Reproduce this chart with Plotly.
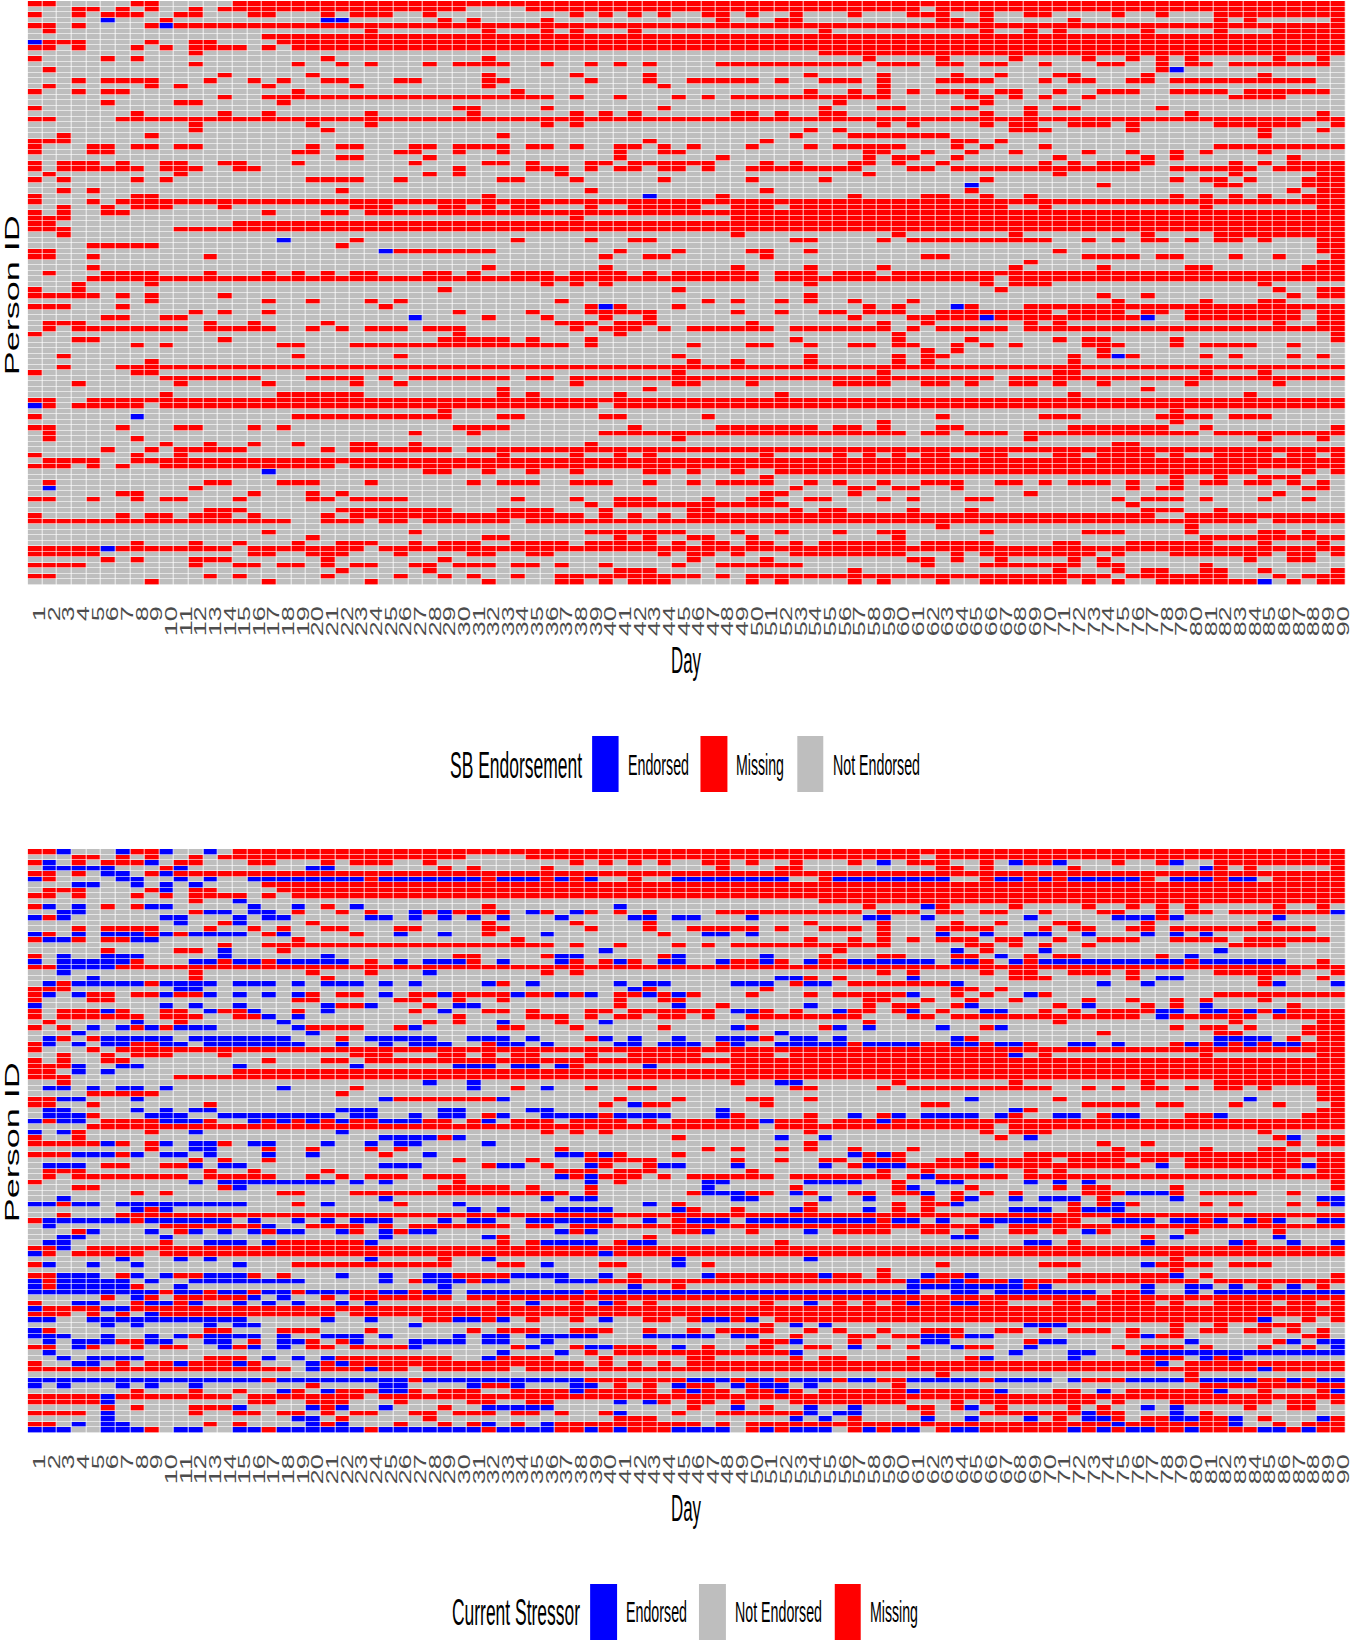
import plotly.graph_objects as go

days = list(range(1, 91))
people = list(range(1, 107))
day_labels = [str(d) for d in days]

# Cells with missing data, one string per person (day ranges)
missing_rows = [
"1-2,8-9,15-90",
"4-5,7,9,12,14-30,35-61,63-90",
"1,4,6-8,11-12,16-17,21,23-25,28,38,40,42,44,47-48,50,53,57,61-63,66,69-70,75,78,82-90",
"10,29,31,36,48,52-53,63-64,66,72,82,84,90",
"1-2,4,9,11-90",
"2,24,32,36,38,42,55,66,69,71,77,82,86-90",
"17-90",
"2-4,9,12-13,18-90",
"1-2,4,8,10,12-15,17,19-90",
"12,55-90",
"1,6,8,21,32,58,63,68,73,76,78,80,86,89",
"12,19,22,24,28,30-33,36,39,41,43,48-57,59-61,63-64,66-67,70,74-75,78,80-81,83-89",
"2,78",
"14,20,32,38,43,54,59,64,67,71-72,77,85",
"4,6-9,13,16,18,21-22,26-27,32-33,39,43,46-50,52,55-57,59,63-66,70,72-73,76-77,79-88",
"2,9,11,17,23,32,44,59",
"1,4,6-7,19,34,54,57,59,61,63-65,67-68,71,74-76,79-82,84-89",
"14,17-36,38,41,45,47,49-59,65-66,68,70,73,83-86",
"6,11-12,18,56,66",
"1,30-31,36,44,55,59-60,64-65,69,71-72,78",
"8,14,17,24,31,38,40,42,49-50,52,55-56,66,69,80,89",
"1-2,7-90",
"12,20,24,36,38,59,61,66,68-69,72-74,76,82-87,90",
"12,21,54,56,68-70,76,85,89",
"3,9,33,53,57-63,85",
"1-3,43,51,64-65,67",
"1,5-6,8-9,11-12,20,22-23,27-28,30-33,35-36,38,41-42,44,46,50,54,56-60,64,66,70,82-90",
"1,5-6,19-20,26-27,30,33,41,44-45,58-59,62,65,68,73,76,79,81,85",
"22-23,28,41,48,58,60-61,64,71,77,79,87",
"1,3-5,7,10-11,14-15,19,27,32-33,35,39-40,42-47,51,53,57-58,60,63,70,72,74-77,83,85,87-90",
"1,3-8,10-12,15-16,30,35-37,39,41-42,44-45,47,50-57,61-62,64-76,79-84,86-90",
"2,11,28,30,37,58,71,83,89-90",
"1,3,8,10,20-23,26,33-34,38,44,50,55,66,79,81-82,84,88-90",
"74,82-83,88-90",
"3,5,22,39,51,65,87,89-90",
"1,8-9,32,48,57,62-63,66,69,79,81,83,85,88-90",
"1,5,7-90",
"3,6,8-10,14,23-25,29-30,32,34-35,39,42-46,49-51,53-67,70,81,89-90",
"1,3,6-7,17,21-22,24-90",
"1-3,38,49-90",
"1-2,15-90",
"1-3,11-90",
"3,49,60,68,77,82-90",
"23,34,39,42-43,53-54,59,61-70,73,75,77-78,80,82-83,85,89-90",
"5-9,22,89-90",
"1-2,26-32,41,45,50-51,54,71,89-90",
"1-2,5,13,40,43-44,51,62-63,73-76,78-79,83,86,90",
"69,89-90",
"5,32,40,49,54,59,68,74,80-81,88-90",
"2,6-9,13,17,19,21,23-24,28-29,31,34-36,38-41,43,45-50,52-54,56-58,60-90",
"5-50,52-66,68-90",
"4,9,36,38,40,54,66,68-70,85",
"1,4,29,45,67,86,89-90",
"1-5,7,9,14,54,74,77,87,89-90",
"9,17,20,24,26,37,47,49,52,54,57,61,75,81,85-86",
"1-3,7,25,39,41,45,58,60,65,69-90",
"12,14,17,30,35,39-43,49,52,55-56,58-60,63-70,72-75,77-78,80-87,89-90",
"6-7,10-11,32,36,40,43,57,61-65,67-76,80-87,89-90",
"2-4,13,16,21,37-39,41-43,50,59,62,69,71,86,89-90",
"2,4-11,13-17,20,22,24-26,28-30,38,40-42,44,46-51,53-59,61,63-67,69-90",
"1,30,41,60,90",
"4-5,14,29-33,35,39,53,60,65,71,73-74,79,90",
"8,10,18-19,23-37,39,46,50-51,54,57-58,60-61,64,66,68,73-75,79,81-84,87",
"62,64,74",
"3,19,26,45,54,60,62-63,72,74,76,81,83,87,89",
"9,46,49,54,60,62,72",
"3,7-90",
"1,8-9,45,59,71-72,81,85",
"10-16,20-23,25,27-33,35-36,38-66,68-90",
"4,11,17,23,26,38,45-46,50,56-59,62-63,65,68-69,71,74,80,86",
"33,43,77",
"10,18-23,33,35,41,52,72,84",
"1-2,5-90",
"2,4-8,10-39,41-90",
"29,79",
"1,19-29,33-34,40-41,47,63,70-72,78-81,83-85",
"59,79",
"1-2,7,11-12,16,18,30-33,42,48-54,56-57,59,63-64,72-78,81,90",
"2,27,31,40-60,62-63,65-67,69-80,82-90",
"2,8,45,69,85,89",
"10,13,16,19,23-24,27,39,75-76",
"6,9,11-15,21,23-29,31-90",
"1,8,11,33,38,41,43,51,56,58,60,62-63,66-67,71-72,74-77,79,82-85,87-88,90",
"2-5,8-90",
"1-3,5,7,10-21,23-90",
"28-29,32,35,38,43-44,46,49,52-84,88,90",
"51,79,82,85-87",
"2,13-14,18-20,24,31,33-35,38-40,43,46,48-51,54,56,59,62-64,67-68,70,72-74,76,79,81-82,84-85,87,89",
"12,53,57-58,60-61,64,76,78-79,88-89",
"7-8,16,20,22,51-52,57,69,86",
"1-2,5,8,10-11,15,20-21,23-26,34,38,41-43,47,50-51,54-55,59,61,65-66,75,77-79,81,85,88",
"39,41-52,76",
"13-15,22-29,33-36,40,46-47,53,55-56,61,65,77-79,82",
"1,7,9-10,12-14,16,21,23-38,40,42,44,46-77,80-90",
"1-18,21-23,25-26,28-33,35-84,86-90",
"63,80",
"17,27,39-45,49,52,56,59-60,66,73-75,80,85-86,88",
"20,32-33,41,43,46-47,50,60,81-90",
"8,12,15,19,22-24,27,29-31,34-37,39-43,45,47-48,50-51,53,55-60,62-66,71-72,76-81,85,89",
"1-5,7-14,16-23,25-90",
"1-5,16-17,20-22,26,31-32,35-36,44,46-47,49,53-60,64,66-73,75,79-85,87-88,90",
"6,8,12-14,21,29,46,51,61-62,64,67,72,74,84,87-88",
"1-4,12,15-16,18-19,21,23-24,27-28,30-32,34-35,37,40,45,48-53,62,66-72,74-75,81",
"22,28,41-43,57,71,75,77-78,81-82,85,90",
"1-2,13,15,21,26,29,31,34,37-46,48,50-74,76-82,86,88-90",
"9,17,24,32,37-38,40,42-44,50,52,57,59,63,66-71,73,75,78-84,87,89-90",
]

# SB endorsed cells
sb_endorsed_person = [4, 4, 4, 5, 8, 13, 34, 36, 44, 46, 56, 56, 58, 58, 58, 65, 74, 76, 86, 89, 100, 106]
sb_endorsed_day = [6, 21, 22, 10, 1, 79, 65, 43, 18, 25, 40, 64, 27, 66, 77, 75, 1, 8, 17, 2, 6, 85]

# Current-stressor endorsed cells, one string per person (day ranges)
stressor_rows = [
"3,7,10,13", "", "2,9,59,68,71,79", "2-6,11,20-21,81", "6-7,10",
"1,7-8,11,13,16-23,25-31,33-35,37,39,45-52,56-63,67-68,70,72-76,79-81,83-84",
"4-5,8,10,12", "10", "", "15", "2,4,9-10,16,19,23,41,62",
"3-4,13-14,16-17,27,29,35,38,90",
"1,3,10-11,15,17-18,24-25,27,29,31,33,37,42-43,45-46,50,58-59,62,69,75-77,79,86",
"11,15", "",
"1,4,6-8,10,12-15,18,26,29,36,47-48,50,63,66,69-70,73,77,79,81",
"2-3,8-9", "", "14,40,64,70,82", "3,6-8,14,21,37-38,45,51,67,80",
"1,3-7,12-13,15-16,18-22,26,28-30,33,37,41,44-45,48,51,54,57-62,64-65,68,70-79,81-86",
"3-6", "3,28", "5,52-53,61,78-79",
"2,4-8,10-13,15-17,19,21-23,25,27,32,35,41,43-44,49-51,54-55,64,74,77,86,90",
"11-12,42", "2,4,10,13,15,17,19,25,29,34,37,39,43,45,61,69", "",
"1,10,12,15,21,24,30-31,45,54,65,73,81",
"6,13,16,21,29,49-50,56,61,66-67,78-79,81-82,84,86",
"17,19,78", "8,18,33,40", "5,7,9,11-13,19,27,49,56,58,63,67", "4,20,52",
"2,6-10,12-18,24-28,31-33,35,40,42,45,48-50,53-54,56,64,82-85",
"2,4,6-7,10-11,13-19,22,25,27-29,33-34,36,41-42,44-46,49,52-56,58-61,64-65,67-68,72-73,75,80,82,84,86-87",
"", "68", "", "4,7-8,15,23,30-32,34-35,37,43", "4,6", "", "28,31,52-53",
"2-3,5,7-8,10,18,31,36", "", "3-4,8,25,33,65,84", "42",
"2-3,8,10,12-13,22-24,29-30,35-36,48,68",
"2-4,9-11,14-21,23-24,27,29-30,33,36-39,41-44,48,57,60,62-65,67,71-72,75-76,82",
"1,3-4,10-12,16,18,20,22,25-27,32,51,59", "", "1,3,12,22",
"25-28,30,52,55,69,87", "6,10,12-13,16-17,21,24,26-27,32", "12-13",
"4-6,8,10-11,13,17,20,28,37-38,40,57,59", "",
"2-4,12,14-15,25-27,33-34,39,44-45,49,55,58-60,66,78,88", "", "37,39,62",
"12,14-21,23,25,39,47-48,54-57,63-64,69,71,73", "15,47,61",
"47-49,53,62,76-78",
"3,25,36,38-39,49-50,55,58,65,68,70-72,79,89-90",
"1-2,4-5,7-15,21,30,43,64,75,90",
"8,10,31,33,37-40,45,53,58,68-70,73-75", "",
"2-7,9-14,16,19,21,23-25,29,31-32,35-40,43,46-48,50-58,60-61,63,66-70,75-77,79-80,82,84,86,89-90",
"2,17", "5,9,12,14,16,18-19,22,25,27-28,37,39,47,54,73",
"3-4,10,25,32,64-65,79,86", "2-3,13-15,17,24,36-39,42-43,69-70,77,83,87,90",
"3", "1,40", "7,11,13,24,32,45,54", "2,5,8,15,36,45,77", "",
"3-5,8,10,13-15,22,25,28-29,34-37,40,47,55,62,65,79",
"1,3-7,9,12-19,25,28-30,32-33,37-39,61,64,68",
"1,3-7,11,29,42,61-68,70,77,80-81,83,87",
"1-9,11-12,14-15,17-18,20-22,25-26,28-29,31-38,40-61,64-65,67-73,77,80,82-90",
"8,16,18", "4-5,9-10,12,15,17,19,22,24,35,40,54,61,64-65", "1,6-7", "9",
"1-2,5-15,21,24,30-31,33,40,47-48,50,85", "6,8,13,15-16,27,53,55,69-71", "1",
"1-3,6,9,11,13-16,18,21-23,25,30,32-33,35-39,43-47,49-50,62-63,65-66,77",
"2,4-6,9-10,13-14,18-19,23,27-30,32-33,36,53,62-63,70-71,80,87,89-90",
"4,14,16,18,27,35,39-40,45,57,64,69,90", "2,33,37,53,68,72-73,77-90",
"3,5-8,17,19,21,32,66,72,81,83", "4-5,11,15,20,22,78", "20,24,85", "",
"1-16,18-26,28-38,46-48,50-51,53-55,57-58,61-65,67-70,72,76-79,81-84,87,89-90",
"1,3,7,9,12,25-26,31,34,38-39,45,49,51-52,54",
"18,21,25-26,38,46,52,61,67,74,82,90", "6", "6,41,43",
"15,20,22,25,32-36,49,54,57,65,77,79", "6,41,54,56-57,73,79",
"6,19-20,53,55,62,65,69,73-74,79-80,83,89", "4,6-7,20,22,32,36,75,83",
"1-3,6-8,11-12,15-16,18-23,25-31,33-36,39,41,45-48,51,53-55,58,60-61,64-65,72,74,76-77,80,85-86,88",
]


def parse(row):
    out = set()
    for part in row.split(","):
        if not part:
            continue
        if "-" in part:
            a, b = part.split("-")
            out.update(range(int(a), int(b) + 1))
        else:
            out.add(int(part))
    return out


ENDORSED, NOT_ENDORSED, MISSING = 0, 1, 2
missing = [parse(r) for r in missing_rows]
stress = [parse(r) for r in stressor_rows]
sb_cells = set(zip(sb_endorsed_person, sb_endorsed_day))

z_sb = [[ENDORSED if (p, d) in sb_cells else MISSING if d in missing[p - 1] else NOT_ENDORSED
         for d in days] for p in people]
z_st = [[ENDORSED if d in stress[p - 1] else MISSING if d in missing[p - 1] else NOT_ENDORSED
         for d in days] for p in people]

W, H = 1350, 1641
BLUE, GREY, RED = "#0000FF", "#BEBEBE", "#FF0000"
scale = [[0, BLUE], [1 / 3, BLUE], [1 / 3, GREY], [2 / 3, GREY], [2 / 3, RED], [1, RED]]
X0, X1 = 26.7, 1346.7
panels = [(1, 585, z_sb), (849, 1433, z_st)]


def px(x):
    return x / W


def py(y):
    return 1 - y / H


fig = go.Figure()
for i, (top, bot, z) in enumerate(panels):
    sfx = "" if i == 0 else "2"
    fig.add_trace(go.Heatmap(x=days, y=people, z=z, colorscale=scale, zmin=0, zmax=2,
                             showscale=False, xgap=0.8, ygap=0.6, xaxis="x" + sfx, yaxis="y" + sfx,
                             hovertemplate="Day %{x}<br>Person %{y}<extra></extra>"))
    fig.layout["xaxis" + sfx] = dict(
        domain=[px(X0), px(X1)], range=[0.5, 90.5], tickmode="array", tickvals=days,
        ticktext=day_labels, tickangle=-90, ticks="", ticklabelstandoff=17, showgrid=False, zeroline=False,
        tickfont=dict(family="Liberation Sans", size=16, color="#4D4D4D"), anchor="y" + sfx)
    fig.layout["yaxis" + sfx] = dict(domain=[py(bot), py(top)], range=[106.5, 0.5], showticklabels=False,
                                     ticks="", showgrid=False, zeroline=False, anchor="x" + sfx)

annotations, shapes = [], []


def label(text, x, y, size, width, color="black", angle=0):
    annotations.append(dict(text=text, x=px(x), y=py(y), xref="paper", yref="paper", showarrow=False,
                            xanchor="center", yanchor="middle", textangle=angle, width=width,
                            font=dict(family="Liberation Sans", size=size, color=color)))


def swatch(color, x0, x1, y0, y1):
    shapes.append(dict(type="rect", xref="paper", yref="paper", x0=px(x0), x1=px(x1),
                       y0=py(y1), y1=py(y0), fillcolor=color, line=dict(width=0)))


label("Person ID", 10, 295, 21, None, angle=-90)
label("Person ID", 10, 1142, 21, None, angle=-90)
label("Day", 686, 660, 36, None)
label("Day", 686, 1508, 36, None)

label("SB Endorsement", 516, 765, 36, 136)
swatch(BLUE, 592, 618.5, 736, 792)
label("Endorsed", 658, 765, 29, 65)
swatch(RED, 700.5, 727.5, 736, 792)
label("Missing", 760.5, 765, 29, 52)
swatch(GREY, 797.5, 823.5, 736, 792)
label("Not Endorsed", 876.5, 765, 29, 91)

label("Current Stressor", 516, 1612, 36, 132)
swatch(BLUE, 590, 617, 1584, 1640)
label("Endorsed", 656.5, 1612, 29, 65)
swatch(GREY, 699, 726, 1584, 1640)
label("Not Endorsed", 778.5, 1612, 29, 91)
swatch(RED, 835, 861, 1584, 1640)
label("Missing", 894, 1612, 29, 52)

fig.update_layout(width=W, height=H, margin=dict(l=0, r=0, t=0, b=0), paper_bgcolor="white",
                  plot_bgcolor="white", showlegend=False, annotations=annotations, shapes=shapes)

post = """
document.body.style.margin = '0';
var lens = {'Day':30,'Person ID':160,'SB Endorsement':132,'Current Stressor':128,
            'Endorsed':61,'Missing':48,'Not Endorsed':87};
document.querySelectorAll('.annotation-text').forEach(function(t){
  var l = lens[t.textContent];
  if (l) { t.setAttribute('textLength', l); t.setAttribute('lengthAdjust', 'spacingAndGlyphs'); }
});
document.querySelectorAll('.xtick text, .x2tick text').forEach(function(t){
  t.setAttribute('textLength', 15 * t.textContent.length);
  t.setAttribute('lengthAdjust', 'spacingAndGlyphs');
  t.setAttribute('dy', '5');
});
"""
fig.write_html("out.html", post_script=post, config={"displayModeBar": False})
